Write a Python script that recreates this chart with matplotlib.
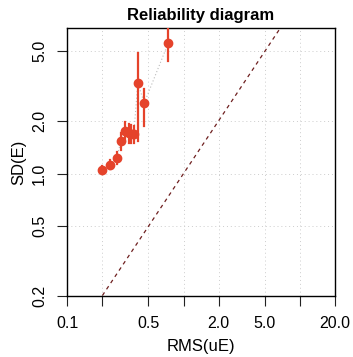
import matplotlib
matplotlib.use("Agg")
import matplotlib.pyplot as plt

plt.rcParams['font.family'] = ['Liberation Sans', 'DejaVu Sans']

# binned values
rms_ue = [0.198, 0.236, 0.266, 0.290, 0.316, 0.339, 0.356, 0.374, 0.405, 0.460, 0.739]
sd_e = [1.044, 1.126, 1.224, 1.527, 1.76, 1.70, 1.69, 1.68, 3.29, 2.53, 5.56]
sd_lo = [0.99, 1.06, 1.14, 1.36, 1.53, 1.50, 1.49, 1.50, 1.53, 1.88, 4.42]
sd_hi = [1.10, 1.19, 1.33, 1.71, 1.97, 1.92, 1.90, 1.88, 4.87, 3.03, 7.2]

x_ticks = [0.1, 0.2, 0.5, 1, 2, 5, 10, 20]
x_labels = ['0.1', '', '0.5', '', '2.0', '5.0', '', '20.0']
y_ticks = [0.2, 0.5, 1, 2, 5]
y_labels = ['0.2', '0.5', '1.0', '2.0', '5.0']

fig = plt.figure(figsize=(3.53, 3.57), dpi=100)
ax = fig.add_axes([0.190, 0.171, 0.759, 0.751])
ax.set_xscale('log')
ax.set_yscale('log')
ax.set_xlim(0.1, 20)
ax.set_ylim(0.2, 6.8)

# grid
for t in x_ticks:
    ax.axvline(t, color='#cccccc', lw=0.7, ls=(0, (1, 3)), zorder=0)
for t in y_ticks:
    ax.axhline(t, color='#cccccc', lw=0.7, ls=(0, (1, 3)), zorder=0)

# identity line
ax.plot([0.01, 100], [0.01, 100], color='#6e1f1f', lw=0.9, ls=(0, (3, 3)), zorder=1)

# connecting line
ax.plot(rms_ue, sd_e, color='#bbbbbb', lw=0.8, ls=(0, (1, 2)), zorder=2)

# error bars and points
red = '#e5432b'
for x, lo, hi in zip(rms_ue, sd_lo, sd_hi):
    ax.plot([x, x], [lo, hi], color=red, lw=1.6, zorder=3)
ax.plot(rms_ue, sd_e, 'o', color=red, ms=6, zorder=4)

ax.set_xticks(x_ticks)
ax.set_xticklabels(x_labels)
ax.set_yticks(y_ticks)
ax.set_yticklabels(y_labels, rotation=90, va='center')
ax.minorticks_off()
ax.tick_params(labelsize=11.5, length=7.5, width=0.8, pad=7, color='#222222')

for s in ax.spines.values():
    s.set_linewidth(1.0)

ax.set_xlabel('RMS(uE)', fontsize=12, labelpad=6)
ax.set_ylabel('SD(E)', fontsize=12, labelpad=4)
ax.set_title('Reliability diagram', fontsize=12, fontweight='bold', pad=6)

fig.savefig('out.png', dpi=100)
